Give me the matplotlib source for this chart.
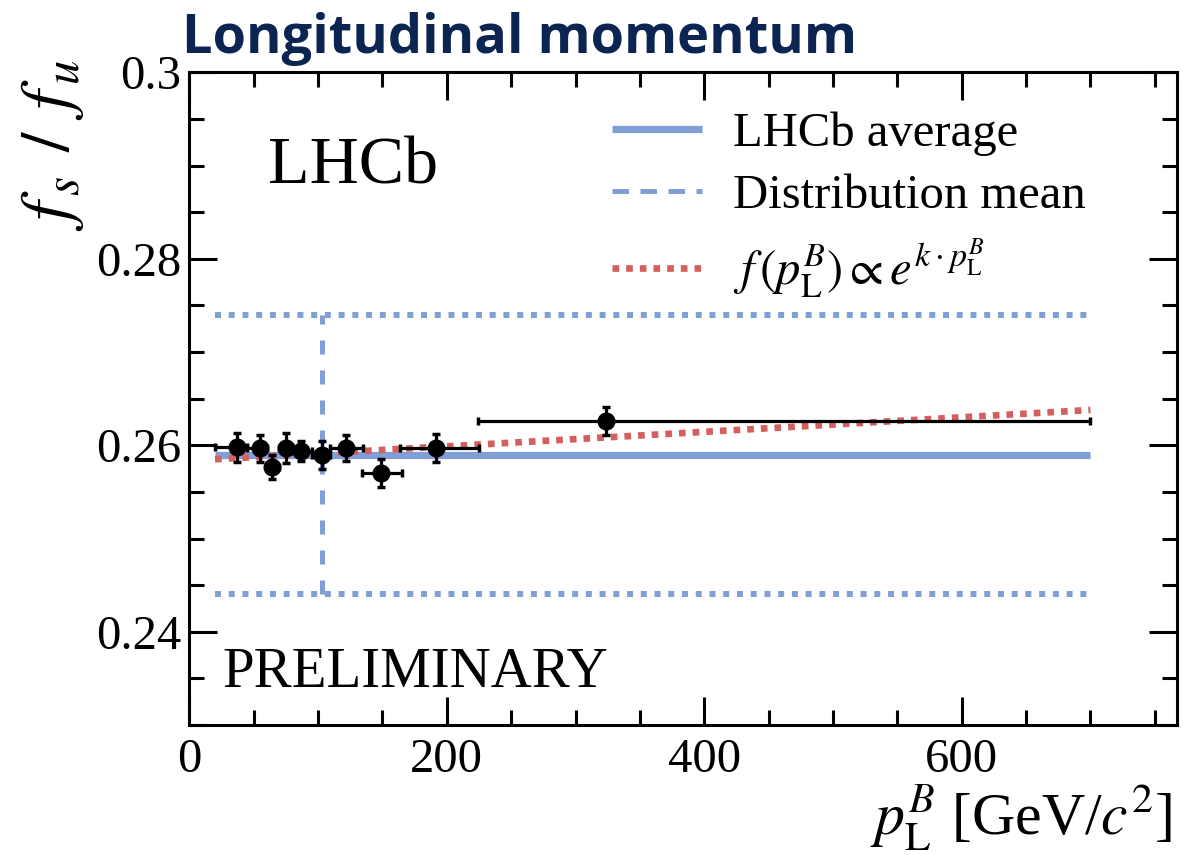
import numpy as np
import matplotlib
matplotlib.use("Agg")
import matplotlib.pyplot as plt
from matplotlib.ticker import MultipleLocator
from matplotlib.lines import Line2D

# ---------------- data ----------------
p_center = [37.4, 55.0, 64.6, 75.2, 86.5, 102.8, 121.4, 148.8, 192.0, 324.0]
p_low    = [20.0, 45.0, 60.0, 70.0, 80.0, 95.0, 109.0, 134.0, 164.0, 224.0]
p_high   = [45.0, 60.0, 70.0, 80.0, 95.0, 109.0, 135.0, 165.0, 225.0, 700.0]
fsfu     = [0.2598, 0.2597, 0.2577, 0.2597, 0.2594, 0.2590, 0.2597, 0.2570, 0.2597, 0.2626]
fsfu_err = [0.00155, 0.00145, 0.0013, 0.0016, 0.0011, 0.0015, 0.00135, 0.0015, 0.0015, 0.0015]

lhcb_average = 0.2590
dist_mean_p = 103.4
band_low, band_high = 0.2441, 0.2740
range_lo, range_hi = 20.0, 700.0

fit_norm = 0.25834   # f(p) = fit_norm * exp(fit_k * p)
fit_k = 2.98e-5

# ---------------- style ----------------
plt.rcParams['font.family'] = ['Liberation Serif', 'DejaVu Serif']
plt.rcParams['mathtext.fontset'] = 'stix'

blue = '#7f9fd6'
red = '#d45f5f'

fig = plt.figure(figsize=(11.83, 8.55), dpi=100)
ax = fig.add_axes([189.3/1183, 130/855, (1176.7-189.3)/1183, (725-72.3)/855])

# bands / lines
ax.plot([range_lo, range_hi], [band_high, band_high], color=blue, lw=4.3,
        ls=(0, (1.0, 1.3)), dash_capstyle='butt')
ax.plot([range_lo, range_hi], [band_low, band_low], color=blue, lw=4.3,
        ls=(0, (1.0, 1.3)), dash_capstyle='butt')
ax.plot([dist_mean_p, dist_mean_p], [band_low, band_high], color=blue, lw=3.6,
        ls=(0, (2.8, 3.2)), dash_capstyle='butt')
ax.plot([range_lo, range_hi], [lhcb_average, lhcb_average], color=blue, lw=5.2,
        solid_capstyle='butt')

pfit = np.linspace(range_lo, range_hi, 200)
ax.plot(pfit, fit_norm*np.exp(fit_k*pfit), color=red, lw=4.8,
        ls=(0, (1.0, 1.05)), dash_capstyle='butt')

pc = np.array(p_center)
xerr = [pc - np.array(p_low), np.array(p_high) - pc]
ax.errorbar(pc, fsfu, yerr=fsfu_err, xerr=xerr, fmt='o', color='black',
            ms=12, elinewidth=2.3, capsize=3.2, capthick=2.5, zorder=5)

ax.set_xlim(0, 767)
ax.set_ylim(0.23, 0.30)
ax.xaxis.set_minor_locator(MultipleLocator(50))
ax.yaxis.set_minor_locator(MultipleLocator(0.005))
ax.set_yticks([0.24, 0.26, 0.28, 0.30])
ax.set_yticklabels(['0.24', '0.26', '0.28', '0.3'])
ax.set_xticks([0, 200, 400, 600])
ax.set_xticklabels(['0', '200', '400', '600'])

ax.tick_params(which='both', direction='in', top=True, right=True, width=2.2,
               labelsize=35)
ax.tick_params(which='major', length=20)
ax.tick_params(which='minor', length=11)
ax.tick_params(axis='y', pad=6)
ax.tick_params(axis='x', pad=9)
for s in ax.spines.values():
    s.set_linewidth(2.2)

# texts
ax.text(61, 0.2881, 'LHCb', fontsize=49, va='baseline', ha='left')
ax.text(26, 0.2341, 'PRELIMINARY', fontsize=41, va='baseline', ha='left')

fig.text(182/1183, (855-53)/855, 'Longitudinal momentum', fontsize=39,
         fontweight='bold', family='Open Sans', color='#0b2452', va='baseline', ha='left')

fig.text(52/1183, (855-145)/855, r'$f_{\,s}\;\,/\;\,f_{\,u}$', rotation=90, fontsize=50,
         ha='center', va='center')
fig.text(1172/1183, (855-835)/855, r'$p_{\mathrm{L}}^{B}$ [GeV/$c^2$]', fontsize=43,
         ha='right', va='baseline')

# legend
handles = [
    Line2D([], [], color=blue, lw=5.2, solid_capstyle='butt'),
    Line2D([], [], color=blue, lw=3.6, ls=(0, (3.3, 2.3)), dash_capstyle='butt'),
    Line2D([], [], color=red, lw=4.8, ls=(0, (1.0, 1.05)), dash_capstyle='butt'),
]
labels = ['LHCb average', 'Distribution mean',
          r'$f\,(p_{\mathrm{L}}^{B})\propto e^{k\cdot p_{\mathrm{L}}^{B}}$']
ax.legend(handles, labels, loc='upper left', bbox_to_anchor=(0.428, 0.94),
          frameon=False, fontsize=35, handlelength=1.85, handletextpad=0.64,
          labelspacing=0.38, borderpad=0, borderaxespad=0)

fig.savefig('out.png', dpi=100)
